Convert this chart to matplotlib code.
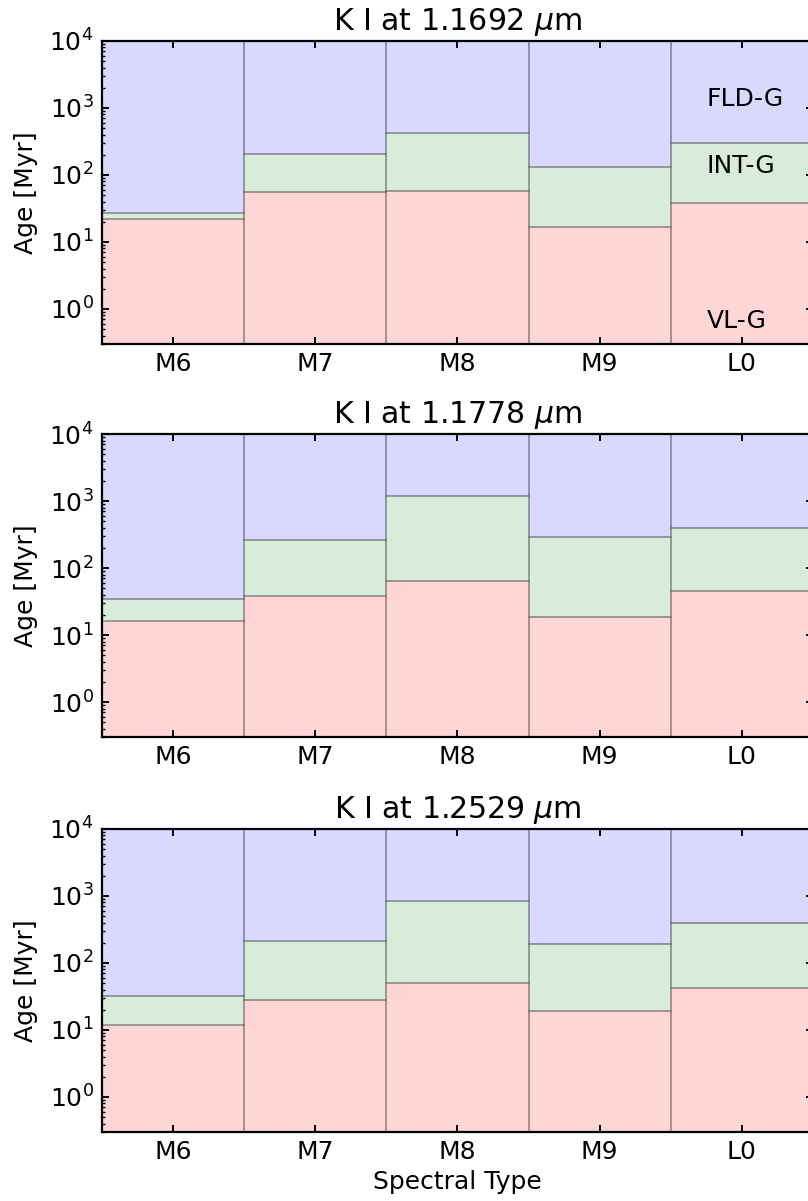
import numpy as np
import matplotlib
matplotlib.use("Agg")
import matplotlib.pyplot as plt

# Bornes d'âge (Myr) par type spectral : haut de VL-G et haut de INT-G
spt = ["M6", "M7", "M8", "M9", "L0"]
titles = ["K I at 1.1692 $\\mu$m", "K I at 1.1778 $\\mu$m", "K I at 1.2529 $\\mu$m"]

vlg_top_1 = [22, 56, 58, 16.7, 38]
intg_top_1 = [27, 206, 423, 132, 300]

vlg_top_2 = [16, 38, 63, 18.4, 46]
intg_top_2 = [35, 265, 1200, 294, 400]

vlg_top_3 = [11.8, 27.9, 51, 19.1, 42.6]
intg_top_3 = [32.3, 215, 851, 194, 391]

panels = [(vlg_top_1, intg_top_1), (vlg_top_2, intg_top_2), (vlg_top_3, intg_top_3)]

age_min, age_max = 0.3, 1e4

plt.rcParams.update({
    "font.size": 18,
    "axes.linewidth": 1.6,
    "xtick.direction": "in",
    "ytick.direction": "in",
    "xtick.top": True,
    "ytick.right": True,
    "xtick.major.size": 5,
    "ytick.major.size": 5,
    "ytick.minor.size": 2.5,
    "xtick.major.width": 1.4,
    "ytick.major.width": 1.4,
    "ytick.minor.width": 1.0,
    "xtick.major.pad": 6,
    "ytick.major.pad": 6,
})

fig = plt.figure(figsize=(8.08, 12.01), dpi=100)
bottoms = [0.7136, 0.3863, 0.0575]
edge = (0, 0, 0, 0.2)
x = np.arange(len(spt))

for i, ((vlg, intg), title) in enumerate(zip(panels, titles)):
    ax = fig.add_axes([0.1262, bottoms[i], 0.88, 0.2523])
    vlg = np.array(vlg, dtype=float)
    intg = np.array(intg, dtype=float)
    floor = np.full(len(spt), 0.01)
    ax.bar(x, vlg - floor, bottom=floor, width=1.0, color=(1, 0, 0, 0.16),
           edgecolor=edge, linewidth=1.3)
    ax.bar(x, intg - vlg, bottom=vlg, width=1.0, color=(0, 0.5, 0, 0.15),
           edgecolor=edge, linewidth=1.3)
    ax.bar(x, age_max - intg, bottom=intg, width=1.0, color=(0, 0, 1, 0.15),
           edgecolor=edge, linewidth=1.3)
    ax.set_yscale("log")
    ax.set_ylim(age_min, age_max)
    ax.set_xlim(-0.5, 4.5)
    ax.set_xticks(x)
    ax.set_xticklabels(spt)
    ax.set_yticks([1, 10, 100, 1000, 10000])
    ax.set_ylabel("Age [Myr]", labelpad=8)
    ax.set_title(title, fontsize=21.6, pad=8)
    if i == 0:
        ax.text(3.754, 1360, "FLD-G", va="center", ha="left")
        ax.text(3.754, 136, "INT-G", va="center", ha="left")
        ax.text(3.754, 0.66, "VL-G", va="center", ha="left")
    if i == 2:
        ax.set_xlabel("Spectral Type", labelpad=4)

fig.savefig("out.png", dpi=100)
